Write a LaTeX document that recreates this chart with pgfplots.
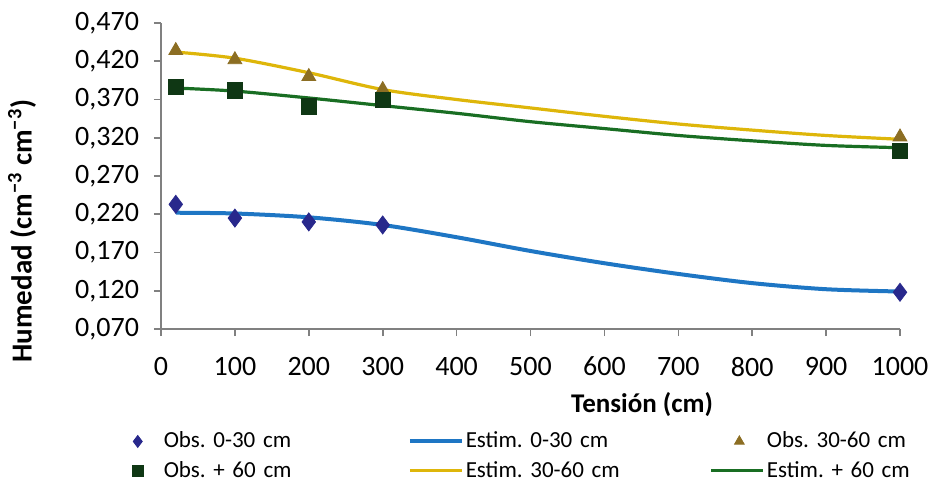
\documentclass[border=0pt]{standalone}
\usepackage{fontspec}
\setmainfont{Carlito}
\usepackage{pgfplots}
\pgfplotsset{compat=1.18}
\definecolor{lblue}{RGB}{30,118,196}
\definecolor{dnavy}{RGB}{40,40,140}
\definecolor{lgold}{RGB}{222,182,10}
\definecolor{dolive}{RGB}{140,110,35}
\definecolor{lgreen}{RGB}{25,110,35}
\definecolor{dgreen}{RGB}{15,55,20}
\definecolor{axgray}{RGB}{128,128,128}
\frenchspacing
\pgfplotsset{
  lineleg/.style={legend image code/.code={\draw[##1] (0pt,0pt) -- (26pt,0pt);}},
  markleg/.style={legend image code/.code={\path[draw=none,fill=none] (0pt,0pt) rectangle (26pt,0.1pt); \draw[##1, mark size=#1] plot coordinates {(14pt,0pt)};}},
}
\begin{document}
\begin{tikzpicture}
\path[use as bounding box] (-80.5pt,-80pt) rectangle (384.5pt,164.5pt);
\begin{axis}[
  at={(0,0)}, anchor=south west,
  scale only axis, width=369.5pt, height=153pt,
  xmin=0, xmax=1000, ymin=0.070, ymax=0.470,
  xtick={0,100,...,1000},
  ytick={0.070,0.120,0.170,0.220,0.270,0.320,0.370,0.420,0.470},
  axis x line*=bottom, axis y line*=left,
  axis line style={axgray, line width=0.8pt},
  tick style={axgray, line width=0.8pt},
  tick align=outside, major tick length=3.5pt,
  x tick label style={/pgf/number format/1000 sep={}, font=\fontsize{14}{16}\selectfont, yshift=-7pt},
  y tick label style={/pgf/number format/.cd, fixed, fixed zerofill, precision=3, use comma, /tikz/.cd, font=\fontsize{14}{16}\selectfont, xshift=-4pt},
  /pgf/number format/assume math mode=true,
  scaled y ticks=false,
  xlabel={\textbf{Tensión (cm)}},
  xlabel style={at={(axis description cs:0.651,-0.248)}, anchor=center, font=\fontsize{13.5}{15}\selectfont},
  ylabel={\textbf{Humedad (cm\textsuperscript{−3} cm\textsuperscript{−3})}},
  ylabel style={at={(axis description cs:-0.188,0.32)}, anchor=center, font=\fontsize{14.5}{16}\selectfont},
  clip=false,
  legend columns=3,
  legend style={draw=none, fill=none, at={(axis description cs:-0.078,-0.305)}, anchor=north west,
    font=\fontsize{11.5}{13.5}\selectfont, nodes={text width=121pt, align=left, inner xsep=1pt, inner ysep=2.6pt},
    /tikz/every even column/.append style={column sep=0pt}},
]
% Obs 0-30
\addplot[only marks, mark=diamond*, mark size=4.5pt, color=dnavy, markleg=3pt] coordinates {
(20,0.233) (100,0.215) (200,0.210) (300,0.206) (1000,0.118)};
\addlegendentry{Obs. 0-30 cm}
% Estim 0-30
\addplot[lblue, line width=2pt, smooth, no marks, lineleg] coordinates {
(20,0.222) (100,0.221) (200,0.216) (300,0.206) (400,0.190) (500,0.172) (600,0.156) (700,0.142) (800,0.130) (900,0.122) (1000,0.119)};
\addlegendentry{Estim. 0-30 cm}
% Obs 30-60
\addplot[only marks, mark=triangle*, mark size=4pt, color=dolive, markleg=2.8pt] coordinates {
(20,0.434) (100,0.422) (200,0.400) (300,0.383) (1000,0.321)};
\addlegendentry{Obs. 30-60 cm}
% Obs +60
\addplot[only marks, mark=square*, mark size=3.8pt, color=dgreen, markleg=2.8pt] coordinates {
(20,0.386) (100,0.382) (200,0.361) (300,0.370) (1000,0.303)};
\addlegendentry{Obs. + 60 cm}
% Estim 30-60
\addplot[lgold, line width=1.6pt, smooth, no marks, lineleg] coordinates {
(20,0.432) (100,0.424) (200,0.405) (300,0.383) (400,0.370) (500,0.359) (600,0.348) (700,0.338) (800,0.330) (900,0.323) (1000,0.318)};
\addlegendentry{Estim. 30-60 cm}
% Estim +60
\addplot[lgreen, line width=1.6pt, smooth, no marks, lineleg] coordinates {
(20,0.385) (100,0.381) (200,0.372) (300,0.362) (400,0.352) (500,0.341) (600,0.332) (700,0.323) (800,0.316) (900,0.310) (1000,0.307)};
\addlegendentry{Estim. + 60 cm}
\end{axis}
\end{tikzpicture}
\end{document}
